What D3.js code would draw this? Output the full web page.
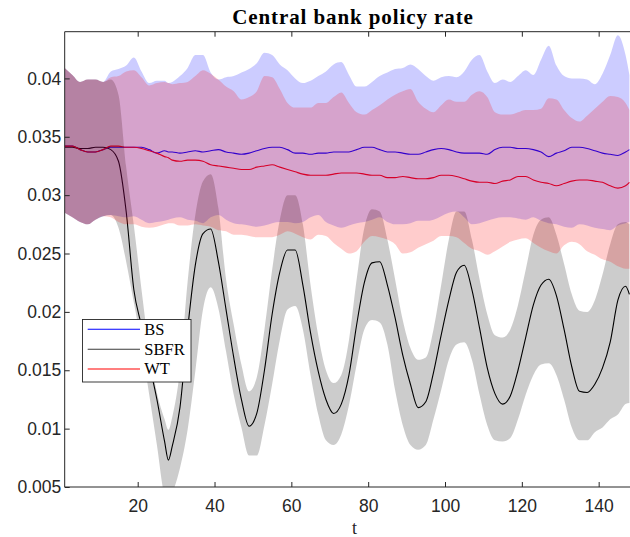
<!DOCTYPE html>
<html>
<head>
<meta charset="utf-8">
<script src="https://cdn.jsdelivr.net/npm/d3@7"></script>
<style>
  body { margin: 0; background: #fff; }
  svg { display: block; }
</style>
</head>
<body>
<svg id="chart" width="630" height="537"></svg>
<script>
// Sample periods
const t = [1,3,5,7,9,11,13,15,17,19,
  21,23,25,27,28,29,31,33,35,37,
  39,41,43,45,47,49,51,53,55,57,
  59,61,63,65,67,69,71,73,75,77,
  79,81,83,85,87,89,91,93,95,97,
  99,101,103,105,107,109,111,113,115,117,
  119,121,123,125,127,129,131,133,135,137,
  139,141,143,145,147,148];

// BS: mean policy rate and its band
const bsMean = [0.0342,0.0342,0.0339,0.0337,0.0337,0.0339,0.0341,0.0341,0.0341,0.0341,
  0.0341,0.0339,0.0336,0.0338,0.0337,0.0337,0.0336,0.0337,0.0338,0.0337,
  0.0338,0.0339,0.0337,0.0336,0.0335,0.0336,0.0338,0.0340,0.0341,0.0341,
  0.0339,0.0336,0.0336,0.0335,0.0336,0.0336,0.0337,0.0337,0.0337,0.0339,
  0.0341,0.0341,0.0339,0.0337,0.0337,0.0336,0.0335,0.0335,0.0337,0.0339,
  0.0340,0.0339,0.0337,0.0336,0.0336,0.0336,0.0335,0.0339,0.0341,0.0341,
  0.0340,0.0340,0.0339,0.0337,0.0333,0.0336,0.0338,0.0341,0.0341,0.0340,
  0.0338,0.0336,0.0335,0.0334,0.0337,0.0339];
const bsHi = [0.0409,0.0403,0.0397,0.0399,0.0399,0.0397,0.0406,0.0408,0.0411,0.0418,
  0.0406,0.0396,0.0398,0.0398,0.0396,0.0397,0.0402,0.0409,0.0420,0.0420,
  0.0405,0.0399,0.0401,0.0402,0.0405,0.0408,0.0413,0.0422,0.0420,0.0412,
  0.0407,0.0400,0.0396,0.0398,0.0402,0.0406,0.0412,0.0414,0.0403,0.0393,
  0.0393,0.0397,0.0402,0.0405,0.0408,0.0409,0.0412,0.0408,0.0402,0.0398,
  0.0401,0.0402,0.0401,0.0406,0.0416,0.0420,0.0406,0.0396,0.0399,0.0397,
  0.0402,0.0407,0.0403,0.0416,0.0428,0.0411,0.0402,0.0400,0.0400,0.0399,
  0.0395,0.0404,0.0420,0.0437,0.0420,0.0403];
const bsLo = [0.0285,0.0281,0.0277,0.0275,0.0279,0.0282,0.0283,0.0282,0.0281,0.0282,
  0.0279,0.0276,0.0277,0.0278,0.0279,0.0280,0.0281,0.0279,0.0278,0.0276,
  0.0281,0.0283,0.0279,0.0276,0.0275,0.0274,0.0273,0.0274,0.0276,0.0277,
  0.0277,0.0276,0.0277,0.0281,0.0283,0.0277,0.0274,0.0272,0.0274,0.0276,
  0.0277,0.0279,0.0281,0.0277,0.0275,0.0275,0.0276,0.0278,0.0278,0.0279,
  0.0282,0.0285,0.0286,0.0281,0.0275,0.0276,0.0278,0.0280,0.0281,0.0281,
  0.0280,0.0279,0.0281,0.0278,0.0276,0.0275,0.0273,0.0272,0.0275,0.0274,
  0.0272,0.0271,0.0270,0.0274,0.0276,0.0277];

// SBFR: mean policy rate and its band
const sbfrMean = [0.0341,0.0341,0.0340,0.0340,0.0341,0.0341,0.0339,0.0329,0.0286,0.0219,
  0.0188,0.0156,0.0125,0.0089,0.0073,0.0085,0.0118,0.0185,0.0240,0.0267,
  0.0271,0.0243,0.0202,0.0161,0.0125,0.0102,0.0113,0.0150,0.0198,0.0234,
  0.0253,0.0253,0.0223,0.0182,0.0149,0.0125,0.0113,0.0121,0.0146,0.0189,
  0.0225,0.0242,0.0243,0.0223,0.0195,0.0163,0.0138,0.0118,0.0123,0.0148,
  0.0180,0.0210,0.0234,0.0240,0.0219,0.0186,0.0152,0.0130,0.0121,0.0128,
  0.0150,0.0178,0.0206,0.0223,0.0228,0.0214,0.0185,0.0153,0.0132,0.0131,
  0.0138,0.0152,0.0174,0.0210,0.0222,0.0215];
const sbfrHi = [0.0409,0.0403,0.0397,0.0399,0.0399,0.0397,0.0399,0.0386,0.0324,0.0274,
  0.0219,0.0168,0.0131,0.0108,0.0099,0.0110,0.0150,0.0226,0.0283,0.0312,
  0.0318,0.0289,0.0228,0.0189,0.0155,0.0132,0.0144,0.0185,0.0236,0.0279,
  0.0300,0.0300,0.0275,0.0223,0.0180,0.0150,0.0139,0.0146,0.0176,0.0228,
  0.0272,0.0288,0.0286,0.0262,0.0228,0.0193,0.0169,0.0159,0.0161,0.0185,
  0.0223,0.0262,0.0286,0.0286,0.0262,0.0228,0.0198,0.0180,0.0178,0.0185,
  0.0206,0.0236,0.0266,0.0279,0.0281,0.0266,0.0241,0.0215,0.0201,0.0200,
  0.0210,0.0232,0.0258,0.0275,0.0277,0.0275];
const sbfrLo = [0.0285,0.0281,0.0277,0.0275,0.0279,0.0282,0.0283,0.0272,0.0243,0.0208,
  0.0172,0.0129,0.0086,0.0043,0.0039,0.0045,0.0066,0.0099,0.0149,0.0202,
  0.0221,0.0203,0.0166,0.0129,0.0101,0.0077,0.0077,0.0103,0.0138,0.0176,
  0.0202,0.0205,0.0185,0.0146,0.0112,0.0090,0.0086,0.0095,0.0120,0.0155,
  0.0185,0.0193,0.0191,0.0172,0.0133,0.0103,0.0086,0.0082,0.0086,0.0108,
  0.0133,0.0159,0.0172,0.0174,0.0159,0.0129,0.0103,0.0090,0.0089,0.0092,
  0.0108,0.0129,0.0146,0.0155,0.0156,0.0146,0.0125,0.0101,0.0090,0.0090,
  0.0097,0.0101,0.0108,0.0112,0.0121,0.0122];

// WT: mean policy rate and its band
const wtMean = [0.0342,0.0342,0.0339,0.0337,0.0337,0.0339,0.0342,0.0342,0.0341,0.0341,
  0.0340,0.0338,0.0336,0.0333,0.0332,0.0330,0.0329,0.0330,0.0330,0.0329,
  0.0326,0.0325,0.0324,0.0323,0.0322,0.0322,0.0324,0.0325,0.0326,0.0324,
  0.0322,0.0320,0.0318,0.0317,0.0317,0.0317,0.0318,0.0319,0.0319,0.0319,
  0.0318,0.0317,0.0317,0.0315,0.0315,0.0316,0.0315,0.0314,0.0314,0.0315,
  0.0317,0.0317,0.0316,0.0314,0.0312,0.0311,0.0311,0.0310,0.0312,0.0313,
  0.0316,0.0316,0.0313,0.0311,0.0310,0.0308,0.0310,0.0312,0.0313,0.0313,
  0.0312,0.0311,0.0308,0.0306,0.0308,0.0311];
const wtHi = [0.0409,0.0403,0.0397,0.0399,0.0399,0.0397,0.0401,0.0402,0.0406,0.0407,
  0.0401,0.0394,0.0396,0.0397,0.0396,0.0395,0.0396,0.0397,0.0402,0.0407,
  0.0404,0.0399,0.0393,0.0389,0.0382,0.0384,0.0389,0.0402,0.0401,0.0391,
  0.0379,0.0375,0.0375,0.0375,0.0379,0.0379,0.0384,0.0388,0.0379,0.0371,
  0.0369,0.0373,0.0377,0.0382,0.0386,0.0389,0.0391,0.0380,0.0374,0.0371,
  0.0377,0.0382,0.0380,0.0380,0.0386,0.0389,0.0384,0.0371,0.0369,0.0369,
  0.0371,0.0373,0.0373,0.0374,0.0383,0.0382,0.0373,0.0366,0.0363,0.0368,
  0.0374,0.0380,0.0385,0.0384,0.0379,0.0373];
const wtLo = [0.0285,0.0281,0.0277,0.0275,0.0279,0.0282,0.0281,0.0277,0.0275,0.0275,
  0.0273,0.0272,0.0273,0.0275,0.0276,0.0276,0.0274,0.0274,0.0275,0.0274,
  0.0273,0.0270,0.0269,0.0266,0.0266,0.0265,0.0264,0.0264,0.0264,0.0266,
  0.0269,0.0267,0.0264,0.0262,0.0266,0.0265,0.0259,0.0254,0.0250,0.0252,
  0.0260,0.0265,0.0264,0.0262,0.0258,0.0250,0.0251,0.0255,0.0258,0.0261,
  0.0265,0.0265,0.0264,0.0259,0.0254,0.0252,0.0249,0.0252,0.0256,0.0260,
  0.0262,0.0263,0.0259,0.0255,0.0252,0.0250,0.0257,0.0260,0.0258,0.0252,
  0.0249,0.0245,0.0243,0.0239,0.0237,0.0237];

const seriesNames = ["BS", "SBFR", "WT"];
const xTicks = [20, 40, 60, 80, 100, 120, 140];
const yTicks = [0.005, 0.01, 0.015, 0.02, 0.025, 0.03, 0.035, 0.04];
const yTickLabels = ["0.005", "0.01", "0.015", "0.02", "0.025", "0.03", "0.035", "0.04"];
const titleText = "Central bank policy rate";
const xLabel = "t";

// ---- layout ----
const plot = { left: 64.7, right: 629.4, top: 31.7, bottom: 487 };
const axisColor = "#262626";
const colors = { BS: "#0000ff", SBFR: "#000000", WT: "#ff0000" };

const x = d3.scaleLinear().domain([1, 148]).range([plot.left, plot.right]);
const y = d3.scaleLinear().domain([0.005, 0.044]).range([plot.bottom, plot.top]);

const svg = d3.select("#chart");

svg.append("defs").append("clipPath").attr("id", "plot-clip")
  .append("rect")
  .attr("x", plot.left).attr("y", plot.top)
  .attr("width", 640 - plot.left).attr("height", plot.bottom - plot.top);

const series = {
  BS:   t.map((v, i) => ({ t: v, m: bsMean[i],   lo: bsLo[i],   hi: bsHi[i] })),
  SBFR: t.map((v, i) => ({ t: v, m: sbfrMean[i], lo: sbfrLo[i], hi: sbfrHi[i] })),
  WT:   t.map((v, i) => ({ t: v, m: wtMean[i],   lo: wtLo[i],   hi: wtHi[i] }))
};

const plotG = svg.append("g").attr("clip-path", "url(#plot-clip)");

const line = d3.line().curve(d3.curveMonotoneX).x(d => x(d.t)).y(d => y(d.m));
const area = d3.area().curve(d3.curveMonotoneX)
  .x(d => x(d.t)).y0(d => y(d.lo)).y1(d => y(d.hi));

// mean paths first, translucent bands drawn over them
seriesNames.forEach(name => {
  plotG.append("path")
    .datum(series[name])
    .attr("d", line)
    .attr("fill", "none")
    .attr("stroke", colors[name])
    .attr("stroke-width", 1.1)
    .attr("stroke-linejoin", "round");
});
seriesNames.forEach(name => {
  plotG.append("path")
    .datum(series[name])
    .attr("d", area)
    .attr("fill", colors[name])
    .attr("fill-opacity", 0.2)
    .attr("stroke", "none");
});

// ---- axes ----
const fontSans = "'Liberation Sans', Arial, Helvetica, sans-serif";
const fontSerif = "'Liberation Serif', 'Times New Roman', serif";

const xAxis = d3.axisBottom(x).tickValues(xTicks).tickFormat(d3.format("d"))
  .tickSizeInner(-5).tickSizeOuter(0).tickPadding(13);
const gx = svg.append("g").attr("transform", `translate(0,${plot.bottom})`).call(xAxis);

const xAxisTop = d3.axisTop(x).tickValues(xTicks).tickFormat("")
  .tickSizeInner(-5).tickSizeOuter(0);
const gxt = svg.append("g").attr("transform", `translate(0,${plot.top})`).call(xAxisTop);

const yAxis = d3.axisLeft(y).tickValues(yTicks)
  .tickFormat((d, i) => yTickLabels[i])
  .tickSizeInner(-5).tickSizeOuter(0).tickPadding(3.5);
const gy = svg.append("g").attr("transform", `translate(${plot.left},0)`).call(yAxis);

[gx, gxt, gy].forEach(g => {
  g.select(".domain").remove();
  g.selectAll(".tick line").attr("stroke", axisColor).attr("stroke-width", 1);
  g.selectAll(".tick text")
    .attr("fill", axisColor)
    .style("font-family", fontSans)
    .style("font-size", "17.5px");
});

// axis box lines (left, bottom, top)
svg.append("line").attr("x1", plot.left).attr("x2", plot.left)
  .attr("y1", plot.top).attr("y2", plot.bottom)
  .attr("stroke", axisColor).attr("stroke-width", 1);
svg.append("line").attr("x1", plot.left).attr("x2", 640)
  .attr("y1", plot.bottom).attr("y2", plot.bottom)
  .attr("stroke", axisColor).attr("stroke-width", 1);
svg.append("line").attr("x1", plot.left).attr("x2", 640)
  .attr("y1", plot.top).attr("y2", plot.top)
  .attr("stroke", axisColor).attr("stroke-width", 1);

// ---- title and axis label ----
svg.append("text")
  .attr("x", 353).attr("y", 23.5)
  .attr("text-anchor", "middle")
  .style("font-family", fontSerif)
  .style("font-weight", "bold")
  .style("font-size", "21px")
  .style("letter-spacing", "0.9px")
  .attr("fill", "#000")
  .text(titleText);

svg.append("text")
  .attr("x", 354.5).attr("y", 533.5)
  .attr("text-anchor", "middle")
  .style("font-family", fontSerif)
  .style("font-size", "18px")
  .attr("fill", axisColor)
  .text(xLabel);

// ---- legend ----
const legend = svg.append("g");
legend.append("rect")
  .attr("x", 82.5).attr("y", 319.5)
  .attr("width", 108.5).attr("height", 62.5)
  .attr("fill", "#fff")
  .attr("stroke", axisColor).attr("stroke-width", 0.9);

const legendRows = [329.3, 349.3, 369];
const legendStroke = { BS: "#0000ff", SBFR: "#3a3a3a", WT: "#ff0000" };
seriesNames.forEach((name, i) => {
  legend.append("line")
    .attr("x1", 87.7).attr("x2", 140)
    .attr("y1", legendRows[i]).attr("y2", legendRows[i])
    .attr("stroke", legendStroke[name]).attr("stroke-width", 1.1);
  legend.append("text")
    .attr("x", 144.3).attr("y", legendRows[i] + 5.4)
    .style("font-family", fontSerif)
    .style("font-size", "16.5px")
    .attr("fill", "#000")
    .text(name);
});
</script>
</body>
</html>
